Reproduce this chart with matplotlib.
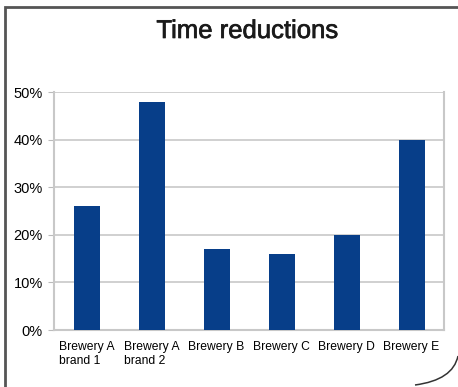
import matplotlib.pyplot as plt
import matplotlib.patheffects as pe
from matplotlib.path import Path
from matplotlib.patches import PathPatch, Polygon
from matplotlib.ticker import PercentFormatter

plt.rcParams['font.family'] = ['Liberation Sans', 'DejaVu Sans']

breweries = ['Brewery A\nbrand 1', 'Brewery A\nbrand 2', 'Brewery B',
             'Brewery C', 'Brewery D', 'Brewery E']
reductions = [26, 48, 17, 16, 20, 40]

W, H = 458, 387
fig = plt.figure(figsize=(W / 100, H / 100), dpi=100)


def fx(x):
    return x / W


def fy(y):
    return 1 - y / H


# panel outline: left and top edges plus a rounded bottom-right corner
edge = Polygon([(fx(5), fy(H + 5)), (fx(5), fy(7)), (fx(W + 5), fy(7))],
               closed=False, fill=False, edgecolor='#555555', lw=2,
               transform=fig.transFigure)
fig.add_artist(edge)
corner = Path([(fx(415), fy(385)), (fx(453), fy(380)), (fx(458), fy(356))],
              [Path.MOVETO, Path.CURVE3, Path.CURVE3])
fig.add_artist(PathPatch(corner, fill=False, edgecolor='#333333', lw=1.1,
                         transform=fig.transFigure))

ax = fig.add_axes([54 / W, 1 - 330 / H, 390 / W, 238 / H])
x = range(len(breweries))
ax.bar(x, reductions, width=0.4, color='#073e89', zorder=3)

ax.set_xlim(-0.5, len(breweries) - 0.5)
ax.set_ylim(0, 50)
ax.set_yticks(range(0, 51, 10))
ax.yaxis.set_major_formatter(PercentFormatter(decimals=0))
ax.set_xticks(list(x))
ax.set_xticklabels(breweries, fontsize=8.7, ha='center', va='top',
                   multialignment='left', linespacing=1.2)
ax.tick_params(axis='x', length=0, pad=8)
ax.tick_params(axis='y', length=4, color='#bbbbbb', labelsize=10.5, pad=4)

ax.grid(axis='y', color='#c8c8c8', lw=1.2, zorder=0)
for side in ['left', 'bottom', 'right']:
    ax.spines[side].set_color('#c8c8c8')
    ax.spines[side].set_linewidth(1.5)
ax.spines['top'].set_visible(False)

title = fig.text(247.5 / W, 1 - 31 / H, 'Time reductions', ha='center',
                 va='center', fontsize=18.5, color='#1a1a1a')
title.set_path_effects([pe.withStroke(linewidth=0.5, foreground='#1a1a1a')])

fig.savefig('out.png', dpi=100)
